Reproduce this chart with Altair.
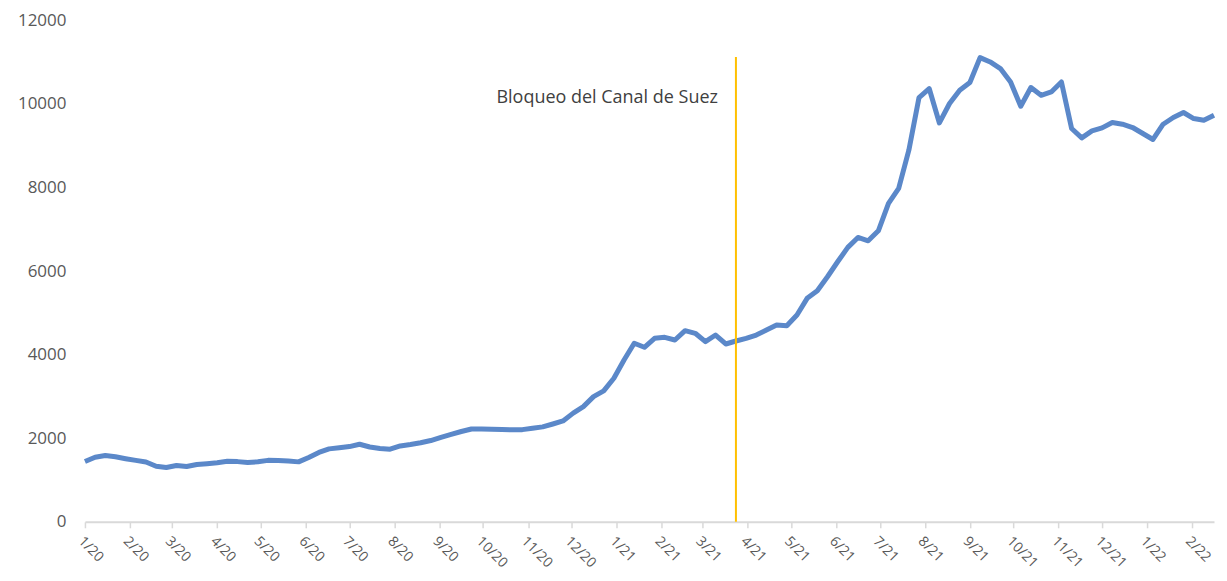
import altair as alt
import pandas as pd

# Weekly index values (Jan 2020 - Feb 2022)
start_date = "2020-01-01"
values = [
    1441, 1545, 1585, 1555, 1510, 1470, 1430, 1330, 1300, 1346,
    1322, 1370, 1390, 1415, 1450, 1440, 1420, 1435, 1470, 1468,
    1455, 1434, 1540, 1660, 1745, 1770, 1800, 1856, 1790, 1755,
    1737, 1816, 1850, 1890, 1944, 2020, 2090, 2160, 2220, 2223,
    2215, 2207, 2200, 2205, 2240, 2271, 2340, 2414, 2600, 2756,
    2995, 3131, 3434, 3872, 4271, 4175, 4390, 4414, 4350, 4573,
    4510, 4310, 4469, 4254, 4326, 4390, 4469, 4589, 4708, 4692,
    4947, 5346, 5528, 5863, 6221, 6565, 6804, 6724, 6963, 7617,
    7975, 8891, 10150, 10365, 9543, 10007, 10325, 10509, 11106, 11002,
    10843, 10524, 9942, 10389, 10205, 10285, 10524, 9409, 9185, 9352,
    9424, 9553, 9512, 9433, 9290, 9147, 9512, 9672, 9792, 9648,
    9608, 9727,
]
dates = pd.date_range(start_date, periods=len(values), freq="7D").strftime("%Y-%m-%d").tolist()

event_date = ["2021-03-24"]
event_label = ["Bloqueo del Canal de Suez"]
event_top = [11120]
label_level = [10140]
y_ticks = [0, 2000, 4000, 6000, 8000, 10000, 12000]

df = pd.DataFrame({"date": dates, "value": values})
ev = pd.DataFrame({"date": event_date, "top": event_top, "label": event_label, "ly": label_level, "zero": [0]})

FONT = "Open Sans"
GRAY = "#595959"

x_scale = alt.Scale(type="utc", domain=[dates[0], dates[-1]], nice=False)
y_scale = alt.Scale(domain=[0, 12000], nice=False)

line = alt.Chart(df).mark_line(color="#5B88C9", strokeWidth=5, strokeJoin="round").encode(
    x=alt.X("date:T", scale=x_scale, title=None,
            axis=alt.Axis(format="%-m/%y", tickCount={"interval": "month", "step": 1},
                          labelAngle=45, labelAlign="left", labelBaseline="top",
                          labelOverlap=False, labelFlush=False, labelPadding=6,
                          labelFont=FONT, labelFontSize=14, labelColor=GRAY,
                          domainColor="#D9D9D9", domainWidth=2, tickColor="#D9D9D9",
                          tickWidth=1.5, tickSize=6, grid=False)),
    y=alt.Y("value:Q", scale=y_scale, title=None,
            axis=alt.Axis(values=y_ticks, format="d", domain=False, ticks=False, grid=False,
                          labelPadding=19, labelFont=FONT, labelFontSize=17, labelColor=GRAY)),
)

rule = alt.Chart(ev).mark_rule(color="#FFC000", strokeWidth=2).encode(
    x=alt.X("date:T", scale=x_scale),
    y=alt.Y("zero:Q", scale=y_scale),
    y2="top:Q",
)

text = alt.Chart(ev).mark_text(align="right", baseline="middle", dx=-18, font=FONT,
                               fontSize=18, color="#404040").encode(
    x=alt.X("date:T", scale=x_scale),
    y=alt.Y("ly:Q", scale=y_scale),
    text="label:N",
)

chart = alt.layer(line, rule, text).properties(
    width=1130, height=502,
    autosize=alt.AutoSizeParams(type="none"),
    padding={"left": 77, "top": 12, "right": 5, "bottom": 51},
).configure_view(stroke=None)

chart.save("out.html", embed_options={"renderer": "svg", "actions": False})
